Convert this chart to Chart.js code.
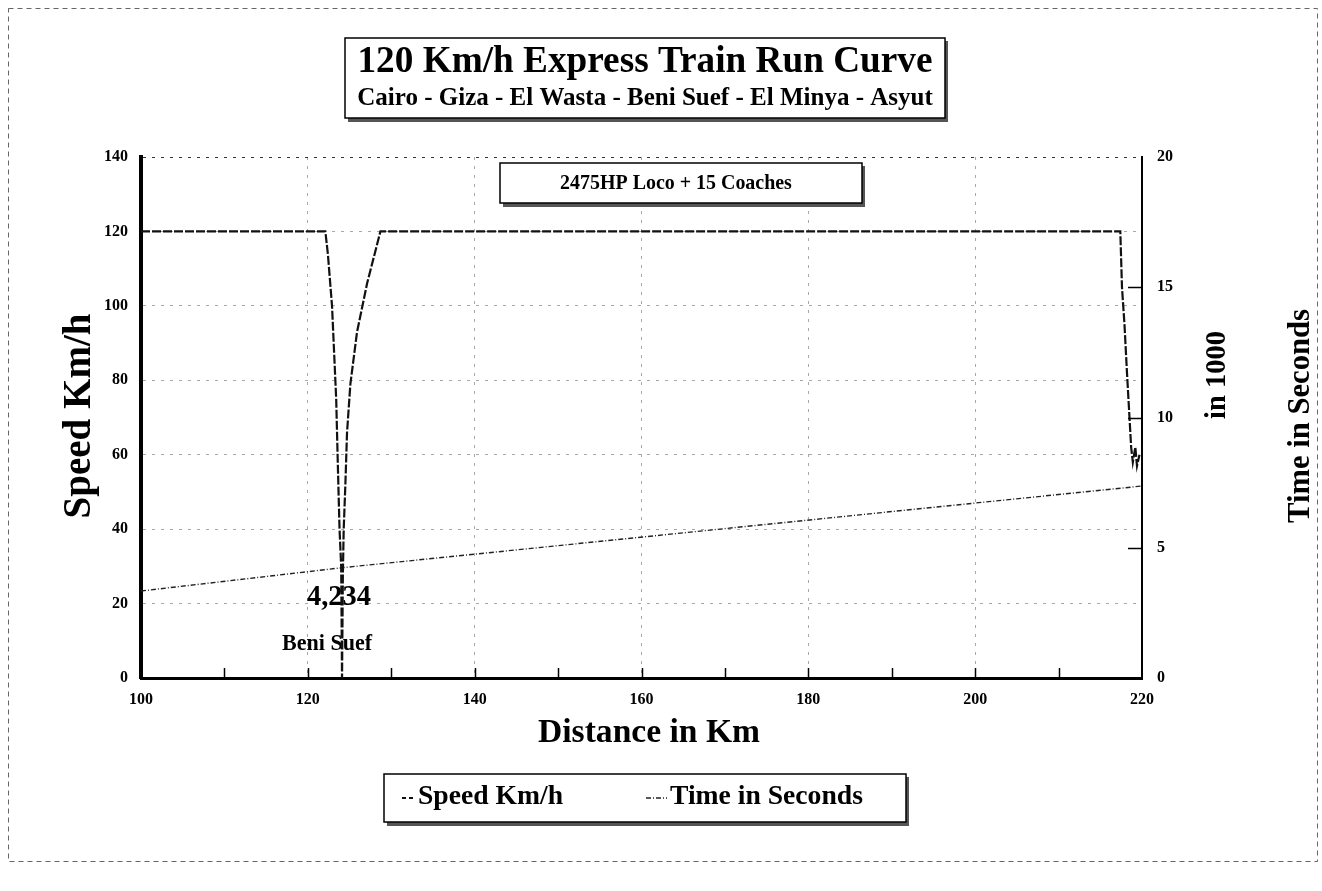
<!DOCTYPE html>
<html>
<head>
<meta charset="utf-8">
<title>120 Km/h Express Train Run Curve</title>
<script src="https://cdn.jsdelivr.net/npm/chart.js@4.4.0/dist/chart.umd.min.js"></script>
<style>
  html, body { margin: 0; padding: 0; background: #fff; overflow: hidden; }
  canvas { display: block; }
</style>
</head>
<body>
<canvas id="runCurve" width="1322" height="891"></canvas>
<script>
// ---- Run curve data (distance in km) ----
const speedDistanceKm = [100, 122.1, 122.4, 122.9, 123.4, 123.6, 123.8, 124.0, 124.1,
                         124.2, 124.3, 124.5, 124.7, 125.1, 125.9, 127.1, 128.7,
                         217.4, 217.6, 217.9, 218.2, 218.5, 218.7, 218.9, 219.2, 219.4, 219.7];
const speedKmh        = [120, 120, 114, 100, 75, 57, 40, 30, 0,
                         28, 40, 52, 66, 79, 93, 106, 120,
                         120, 105, 95, 82, 70, 62, 58, 62, 57, 60];

const timeDistanceKm  = [100, 124.1, 220];
const timeSeconds     = [3340, 4234, 7370];

const stationName = 'Beni Suef';
const stationKm   = 124.1;

const titleText    = '120 Km/h Express Train Run Curve';
const subtitleText = 'Cairo - Giza - El Wasta - Beni Suef - El Minya - Asyut';
const trainText    = '2475HP Loco + 15 Coaches';
const speedLabel   = 'Speed Km/h';
const timeLabel    = 'Time in Seconds';
const xTitle       = 'Distance in Km';
const timeUnitText = 'in 1000';

const SERIF = '"Liberation Serif", "Times New Roman", serif';

const toPoints = (xs, ys) => xs.map((x, i) => ({ x, y: ys[i] }));

// Font sized so the text spans the requested width
function fitFont(ctx, text, width) {
  ctx.font = `bold 100px ${SERIF}`;
  const w = ctx.measureText(text).width;
  return `bold ${(100 * width / w).toFixed(2)}px ${SERIF}`;
}

function shadowBox(ctx, x, y, w, h) {
  ctx.save();
  ctx.fillStyle = '#555';
  ctx.fillRect(x + 3, y + h, w, 4);
  ctx.fillRect(x + w, y + 3, 3, h + 1);
  ctx.fillStyle = '#fff';
  ctx.fillRect(x, y, w, h);
  ctx.strokeStyle = '#000';
  ctx.lineWidth = 1.5;
  ctx.strokeRect(x, y, w, h);
  ctx.restore();
}

function centeredText(ctx, text, cx, cy, width, angle = 0) {
  ctx.save();
  ctx.font = fitFont(ctx, text, width);
  ctx.fillStyle = '#000';
  ctx.textAlign = 'center';
  ctx.textBaseline = 'middle';
  ctx.translate(cx, cy);
  if (angle) ctx.rotate(angle);
  ctx.fillText(text, 0, 0);
  ctx.restore();
}

const decorations = {
  id: 'decorations',
  beforeDraw(chart) {
    const { ctx, width, height } = chart;
    ctx.save();
    ctx.fillStyle = '#fff';
    ctx.fillRect(0, 0, width, height);
    // outer frame
    ctx.strokeStyle = '#666';
    ctx.lineWidth = 1;
    ctx.setLineDash([5, 4]);
    ctx.strokeRect(8.5, 8.5, 1309, 853);
    ctx.restore();
  },
  beforeDatasetsDraw(chart) {
    const { ctx, scales } = chart;
    // station annotation under the time curve
    const idx = timeDistanceKm.indexOf(stationKm);
    const t = timeSeconds[idx];
    const px = scales.x.getPixelForValue(stationKm);
    const py = scales.y2.getPixelForValue(t);
    centeredText(ctx, t.toLocaleString('en-US'), px - 3, py + 30, 64);
    centeredText(ctx, stationName, px - 15, py + 77, 90);
  },
  afterDraw(chart) {
    const { ctx, scales, chartArea } = chart;
    const { x, y2 } = scales;
    ctx.save();
    ctx.strokeStyle = '#000';
    ctx.lineWidth = 1.5;
    // minor ticks along the distance axis
    for (let km = 110; km < 220; km += 10) {
      const px = Math.round(x.getPixelForValue(km)) + 0.5;
      ctx.beginPath();
      ctx.moveTo(px, chartArea.bottom);
      ctx.lineTo(px, chartArea.bottom - 10);
      ctx.stroke();
    }
    // inward ticks on the time axis
    for (let s = 5000; s < 20000; s += 5000) {
      const py = Math.round(y2.getPixelForValue(s)) + 0.5;
      ctx.beginPath();
      ctx.moveTo(chartArea.right, py);
      ctx.lineTo(chartArea.right - 14, py);
      ctx.stroke();
    }
    ctx.restore();

    // title block
    shadowBox(ctx, 345, 38, 600, 80);
    centeredText(ctx, titleText, 645, 62, 575);
    centeredText(ctx, subtitleText, 645, 99, 576);

    // train consist
    shadowBox(ctx, 500, 163, 362, 40);
    centeredText(ctx, trainText, 676, 184, 232);

    // axis titles
    centeredText(ctx, speedLabel, 80, 416, 205, -Math.PI / 2);
    centeredText(ctx, xTitle, 649, 733, 222);
    centeredText(ctx, timeUnitText, 1218, 375, 88, -Math.PI / 2);
    centeredText(ctx, timeLabel, 1301, 416, 214, -Math.PI / 2);

    // legend
    shadowBox(ctx, 384, 774, 522, 48);
    const legendY = 797;
    ctx.save();
    ctx.font = fitFont(ctx, timeLabel, 193);
    ctx.fillStyle = '#000';
    ctx.textBaseline = 'middle';
    ctx.textAlign = 'left';
    ctx.fillText(speedLabel, 418, legendY);
    ctx.fillText(timeLabel, 670, legendY);
    const sp = chart.data.datasets[0];
    ctx.strokeStyle = sp.borderColor;
    ctx.lineWidth = 2;
    ctx.setLineDash([4, 3]);
    ctx.beginPath(); ctx.moveTo(402, legendY + 1); ctx.lineTo(413, legendY + 1); ctx.stroke();
    const tm = chart.data.datasets[1];
    ctx.strokeStyle = tm.borderColor;
    ctx.lineWidth = tm.borderWidth;
    ctx.setLineDash(tm.borderDash);
    ctx.beginPath(); ctx.moveTo(646, legendY + 1); ctx.lineTo(667, legendY + 1); ctx.stroke();
    ctx.restore();
  }
};

const tickFont = { family: SERIF, weight: 'bold', size: 16 };
const gridGrey = '#a8a8a8';

new Chart(document.getElementById('runCurve').getContext('2d'), {
  type: 'scatter',
  data: {
    datasets: [
      {
        label: speedLabel,
        data: toPoints(speedDistanceKm, speedKmh),
        showLine: true,
        yAxisID: 'y',
        borderColor: '#111',
        borderWidth: 2.2,
        borderDash: [9, 2],
        pointRadius: 0,
        tension: 0
      },
      {
        label: timeLabel,
        data: toPoints(timeDistanceKm, timeSeconds),
        showLine: true,
        yAxisID: 'y2',
        borderColor: '#222',
        borderWidth: 1.4,
        borderDash: [5, 2, 1, 2],
        pointRadius: 0,
        tension: 0
      }
    ]
  },
  options: {
    responsive: false,
    animation: false,
    devicePixelRatio: 1,
    layout: { padding: { top: 157, left: 0, right: 0, bottom: 0 } },
    plugins: {
      legend: { display: false },
      tooltip: { enabled: false },
      title: { display: false }
    },
    scales: {
      x: {
        type: 'linear',
        min: 100,
        max: 220,
        ticks: { stepSize: 20, padding: 12, font: tickFont, color: '#000', maxRotation: 0 },
        grid: {
          drawTicks: false,
          lineWidth: 1,
          color: c => (c.tick && (c.tick.value === 100 || c.tick.value === 220)) ? 'rgba(0,0,0,0)' : gridGrey
        },
        border: { color: '#000', width: 3, dash: [3, 6] },
        afterFit: s => { s.height = 891 - 678; }
      },
      y: {
        position: 'left',
        min: 0,
        max: 140,
        ticks: { stepSize: 20, padding: 13, font: tickFont, color: '#000' },
        grid: {
          drawTicks: false,
          lineWidth: 1,
          color: c => {
            if (!c.tick) return gridGrey;
            if (c.tick.value === 0) return 'rgba(0,0,0,0)';
            return c.tick.value === 140 ? '#333' : gridGrey;
          }
        },
        border: { color: '#000', width: 4, dash: [3, 6] },
        afterFit: s => { s.width = 141; }
      },
      y2: {
        position: 'right',
        min: 0,
        max: 20000,
        ticks: { stepSize: 5000, padding: 15, font: tickFont, color: '#000', callback: v => v / 1000 },
        grid: { display: false, drawTicks: false },
        border: { color: '#000', width: 2 },
        afterFit: s => { s.width = 180; }
      }
    }
  },
  plugins: [decorations]
});
</script>
</body>
</html>
